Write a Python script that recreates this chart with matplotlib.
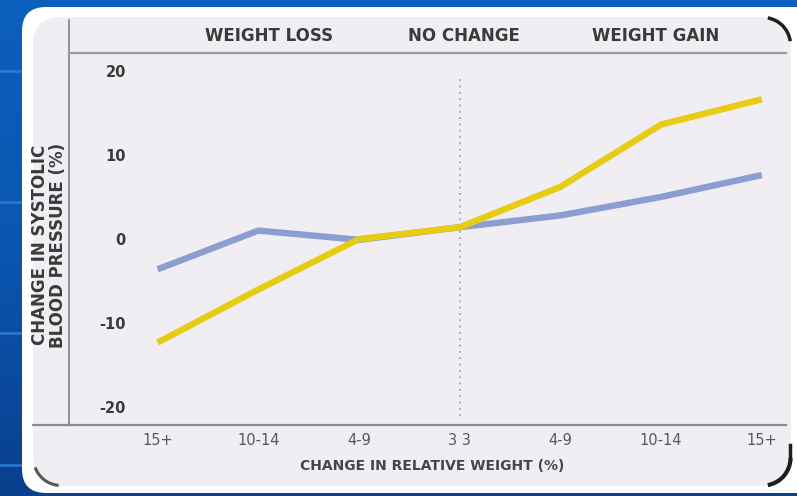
import matplotlib
matplotlib.use("Agg")
import matplotlib.pyplot as plt
from matplotlib.patches import FancyBboxPatch, Arc
import numpy as np

# weight change groups (loss -> none -> gain)
categories = ["15+", "10-14", "4-9", "3 3", "4-9", "10-14", "15+"]
blue_series = [-3.6, 1.0, -0.1, 1.4, 2.8, 5.0, 7.6]
yellow_series = [-12.3, -6.0, 0.0, 1.4, 6.2, 13.6, 16.6]
y_ticks = [-20, -10, 0, 10, 20]
headers = ["WEIGHT LOSS", "NO CHANGE", "WEIGHT GAIN"]

W, H = 797, 496
fig = plt.figure(figsize=(W / 100, H / 100), dpi=100)

def Y(y):
    # image row -> bottom-up pixel coordinate
    return H - y

# slide background, everything in pixels
bg = fig.add_axes([0, 0, 1, 1])
bg.set_xlim(0, W)
bg.set_ylim(0, H)
bg.axis("off")

grad = np.linspace(0, 1, 256).reshape(-1, 1)
bg.imshow(grad, extent=[0, W, 0, H], cmap=matplotlib.colors.LinearSegmentedColormap.from_list(
    "slide", ["#0a3f8e", "#0b56b0", "#0d5fbe"]), aspect="auto", origin="lower", zorder=0)
for yy in [71, 202, 333, 465]:
    bg.plot([0, 24], [Y(yy), Y(yy)], color="#2a7bd4", lw=1.8, zorder=1)

card = FancyBboxPatch((22, Y(493)), 800, 486, boxstyle="round,pad=0,rounding_size=24",
                      fc="white", ec="none", zorder=2)
bg.add_patch(card)
photo = FancyBboxPatch((33, Y(486)), 758, 469, boxstyle="round,pad=0,rounding_size=28",
                       fc="#f0eef3", ec="none", zorder=3)
bg.add_patch(photo)

# dark shading at the photo corners
bg.add_patch(Arc((763, Y(45)), 55, 55, theta1=8, theta2=80, color="#1e1e1e", lw=2.5, zorder=4))
bg.add_patch(Arc((61, Y(458)), 55, 55, theta1=200, theta2=265, color="#333333", lw=2.2,
                 alpha=0.8, zorder=4))
bg.add_patch(Arc((763, Y(458)), 55, 55, theta1=280, theta2=360, color="#1e1e1e", lw=3, zorder=4))
bg.plot([790, 790], [Y(458), Y(445)], color="#1e1e1e", lw=2.5, zorder=4)

# frame lines beyond the axes
bg.plot([69, 69], [Y(20), Y(53)], color="#8c8c8c", lw=1.3, zorder=5)
bg.plot([33, 70], [Y(425), Y(425)], color="#8c8c8c", lw=1.6, zorder=5)

txt = "#3a3a3a"
font = "DejaVu Sans"

ax = fig.add_axes([69 / W, 1 - 425 / H, (786 - 69) / W, (425 - 53) / H])
ax.set_facecolor("none")
x = np.arange(len(categories))

ax.plot(x, blue_series, color="#8c9dd2", lw=4.6, solid_capstyle="butt", zorder=3)
ax.plot(x, yellow_series, color="#e8cc14", lw=4.6, solid_capstyle="butt", zorder=4)
ax.vlines(3, -21, 19, colors="#a0a6bf", linestyles=(0, (1, 2.5)), lw=1.3, zorder=2)

ax.set_xlim(-0.88, 6.24)
ax.set_ylim(-22.1, 22.1)

ax.spines["right"].set_visible(False)
ax.spines["left"].set_color("#8c8c8c")
ax.spines["left"].set_linewidth(1.3)
ax.spines["top"].set_color("#9a9a9a")
ax.spines["top"].set_linewidth(1.6)
ax.spines["bottom"].set_color("#8c8c8c")
ax.spines["bottom"].set_linewidth(1.6)

ax.set_xticks(x)
ax.set_xticklabels(categories, fontsize=10.5, color="#585858", fontfamily=font)
ax.set_yticks(y_ticks)
ax.set_yticklabels([str(v) for v in y_ticks], fontsize=10.5, color=txt,
                   fontfamily=font, fontweight="bold")
ax.tick_params(axis="x", length=0, pad=6)
ax.tick_params(axis="y", length=0, pad=-41)

for label, cx in zip(headers, [269, 464, 656]):
    fig.text(cx / W, 1 - 36 / H, label, ha="center", va="center", fontsize=12,
             fontweight="bold", color=txt, fontfamily=font)

fig.text(432 / W, 1 - 466 / H, "CHANGE IN RELATIVE WEIGHT (%)", ha="center", va="center",
         fontsize=10, fontweight="bold", color="#454545", fontfamily=font)
ylab = fig.text(49 / W, 1 - 245 / H, "CHANGE IN SYSTOLIC\nBLOOD PRESSURE (%)", rotation=90,
                ha="center", va="center", fontsize=12, fontweight="bold", color=txt,
                fontfamily=font, linespacing=0.95, multialignment="center")
ylab.set_clip_path(photo)

fig.savefig("out.png", dpi=100)
